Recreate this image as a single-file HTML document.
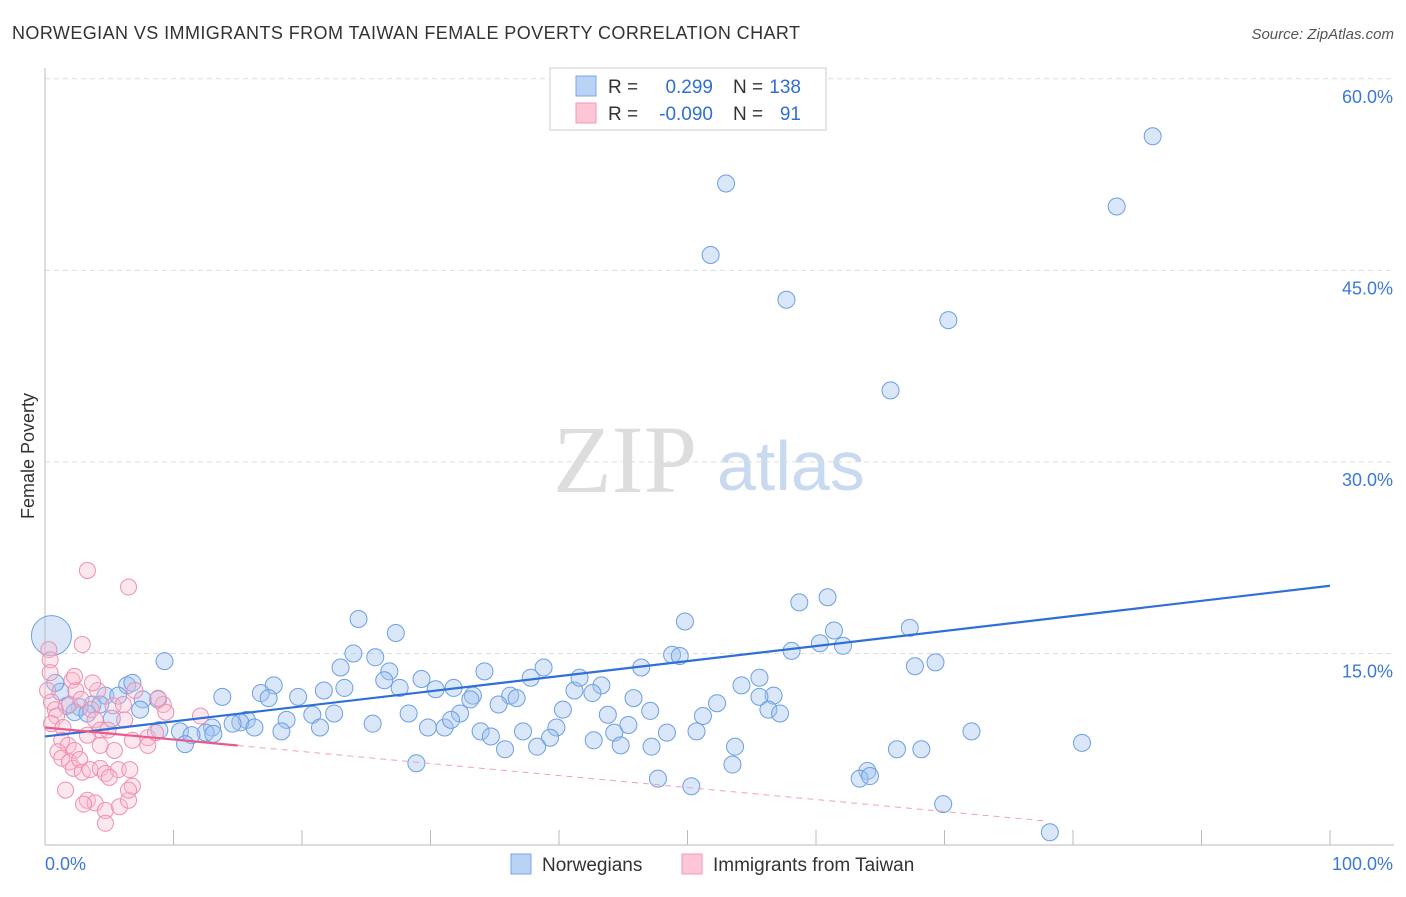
<!DOCTYPE html>
<html><head><meta charset="utf-8"><style>
body{margin:0;background:#fff;font-family:"Liberation Sans",sans-serif;}
svg text{font-family:"Liberation Sans",sans-serif;}
</style></head><body>
<svg id="c" width="1406" height="892" xmlns="http://www.w3.org/2000/svg">
<text x="12" y="39" font-size="18" fill="#333" textLength="788">NORWEGIAN VS IMMIGRANTS FROM TAIWAN FEMALE POVERTY CORRELATION CHART</text>
<text x="1394" y="39" font-size="15" fill="#555" font-style="italic" text-anchor="end">Source: ZipAtlas.com</text>
<text x="34" y="456" font-size="18" fill="#333" transform="rotate(-90 34 456)" text-anchor="middle">Female Poverty</text>
<g>
<text x="553" y="492" font-size="96" fill="#ddd" font-family="Liberation Serif" style="font-family:'Liberation Serif',serif">ZIP</text>
<text x="717" y="490" font-size="70" fill="#c9d9f0">atlas</text>
</g>
<g id="grid"></g><g id="axes"></g><g id="pts"></g><g id="lines"></g>
<g>
<rect x="550" y="68" width="276" height="62" fill="#fff" stroke="#ccc"/>
<rect x="576" y="76" width="20" height="20" fill="#b9d3f5" stroke="#7aa6e6"/>
<rect x="576" y="103" width="20" height="20" fill="#fcc6d6" stroke="#f09ab5"/>
<text x="608" y="93" font-size="19" fill="#333">R =</text>
<text x="713" y="93" font-size="19" fill="#2f6fd6" text-anchor="end">0.299</text>
<text x="733" y="93" font-size="19" fill="#333">N =</text>
<text x="801" y="93" font-size="19" fill="#2f6fd6" text-anchor="end">138</text>
<text x="608" y="120" font-size="19" fill="#333">R =</text>
<text x="713" y="120" font-size="19" fill="#2f6fd6" text-anchor="end">-0.090</text>
<text x="733" y="120" font-size="19" fill="#333">N =</text>
<text x="801" y="120" font-size="19" fill="#2f6fd6" text-anchor="end">91</text>
</g>
<g>
<rect x="511" y="854" width="20" height="20" fill="#b9d3f5" stroke="#7aa6e6"/>
<text x="542" y="871" font-size="19" fill="#333">Norwegians</text>
<rect x="682" y="854" width="20" height="20" fill="#fcc6d6" stroke="#f09ab5"/>
<text x="713" y="871" font-size="19" fill="#333">Immigrants from Taiwan</text>
</g>
</svg>
<script>
const yTicks=[15,30,45,60];
const yTickLabels=["15.0%","30.0%","45.0%","60.0%"];
const xTicks=[0,10,20,30,40,50,60,70,80,90,100];
const xTickLabels=["0.0%","100.0%"];
const blueX=[86.2,53.0,83.4,51.8,57.7,70.3,65.8,24.4,49.8,58.7,60.9,67.3,27.3,61.4,60.3,62.1,69.3,67.7,58.1,48.8,49.4,46.4,9.3,24.0,25.7,23.0,26.8,34.2,38.8,37.8,26.4,29.3,31.8,27.6,23.3,21.7,17.8,16.8,19.7,17.4,13.8,33.3,30.4,36.2,36.7,35.3,33.1,41.2,41.6,43.3,42.6,45.8,55.6,54.2,56.7,55.6,56.3,57.2,52.3,51.2,47.1,43.8,40.3,32.3,28.3,22.5,20.8,18.8,15.7,15.2,14.6,13.0,12.5,10.5,11.4,13.1,16.3,18.4,21.4,25.5,29.8,31.1,31.6,33.9,34.7,37.2,39.8,45.4,44.3,48.4,50.7,39.3,38.3,42.7,44.8,47.2,53.7,35.8,66.3,68.2,72.1,80.7,53.5,28.9,47.7,50.3,64.0,63.4,64.2,69.9,78.2,10.9,8.8,7.6,6.4,6.8,4.7,5.7,3.7,4.3,2.7,1.7,1.2,0.8,0.5,2.3,3.3,7.4,8.9,5.2];
const blueY=[55.5,51.8,50.0,46.2,42.7,41.1,35.6,17.7,17.5,19.0,19.4,17.0,16.6,16.8,15.8,15.6,14.3,14.0,15.2,14.9,14.8,13.9,14.4,15.0,14.7,13.9,13.6,13.6,13.9,13.1,12.9,13.0,12.3,12.3,12.3,12.1,12.5,11.9,11.6,11.5,11.6,11.7,12.2,11.7,11.5,11.0,11.4,12.1,13.1,12.5,11.9,11.5,13.1,12.5,11.7,11.6,10.6,10.3,11.1,10.1,10.5,10.2,10.6,10.3,10.3,10.3,10.2,9.8,9.8,9.6,9.5,9.2,8.8,8.9,8.6,8.7,9.2,8.9,9.2,9.5,9.2,9.2,9.8,8.9,8.5,8.9,9.2,9.4,8.8,8.8,8.9,8.4,7.7,8.2,7.8,7.7,7.7,7.5,7.5,7.5,8.9,8.0,6.3,6.4,5.2,4.6,5.8,5.2,5.4,3.2,1.0,7.9,11.4,11.4,12.5,12.7,11.7,11.7,11.0,11.0,10.8,10.9,12.0,12.7,16.4,10.4,10.3,10.6,9.0,9.9];
const pinkX=[3.3,6.5,2.9,0.3,0.4,0.4,0.2,0.5,0.8,0.9,0.5,1.4,2.1,2.4,1.9,2.8,3.6,3.9,4.3,3.3,1.3,1.8,1.0,1.3,2.3,1.9,2.2,2.7,2.9,3.5,4.3,4.7,5.7,6.6,5.0,1.6,3.3,3.9,3.0,4.7,5.8,6.5,6.8,6.5,4.7,4.9,6.2,6.8,4.3,5.4,8.0,8.0,8.6,9.2,9.4,12.1,8.8,5.3,7.0,6.1,4.1,3.7,2.3];
const pinkY=[21.5,20.2,15.7,15.3,14.5,13.5,12.1,11.2,10.6,10.1,9.5,9.2,12.9,12.1,11.0,11.4,10.6,9.8,9.0,8.6,8.2,7.8,7.3,6.8,7.4,6.5,6.0,6.7,5.7,5.9,6.0,5.6,5.9,5.9,5.3,4.3,3.5,3.3,3.2,2.7,3.0,3.5,4.6,4.3,1.7,9.0,9.8,8.2,7.8,7.4,8.4,7.8,8.8,11.0,10.4,10.1,11.5,10.9,12.1,11.0,12.1,12.7,13.2];
const blueFit=[8.5,20.3];
const pinkFit=[9.2,-0.2];
const NS="http://www.w3.org/2000/svg";
const X=v=>45+v*12.85, Y=v=>845-v*12.77;
function mk(tag,at,parent){const e=document.createElementNS(NS,tag);for(const k in at)e.setAttribute(k,at[k]);document.getElementById(parent).appendChild(e);return e;}
yTicks.forEach((t,i)=>{
 const g=mk('line',{x1:45,x2:1394,y1:Y(t),y2:Y(t),stroke:'#ddd','stroke-dasharray':'5,4'},'grid');
 
 
 const l=mk('text',{x:1393,y:Y(t)+24,'font-size':18,fill:'#3b78d8','text-anchor':'end'},'axes');
 l.textContent=yTickLabels[i];
 
 
});
const ya=mk('line',{x1:45,x2:45,y1:68,y2:845,stroke:'#bbb'},'axes');


const xa=mk('line',{x1:45,x2:1394,y1:845,y2:845,stroke:'#bbb'},'axes');


xTicks.forEach(t=>{
 const e=mk('line',{x1:X(t),x2:X(t),y1:830,y2:845,stroke:'#bbb'},'axes');
 
 
});
[[0,'start',45],[100,'end',1393]].forEach((a,i)=>{
 const l=mk('text',{x:a[2],y:870,'font-size':18,fill:'#3b78d8','text-anchor':a[1]},'axes');
 l.textContent=xTickLabels[i];
 
 
});
blueX.forEach((x,i)=>{
 const big=(x<1&&blueY[i]>16);
 const c=mk('circle',{cx:X(x),cy:Y(blueY[i]),r:big?20:8.5,fill:'rgba(160,195,240,0.4)',stroke:'#6d9fe3','stroke-width':1},'pts');
 
 
});
pinkX.forEach((x,i)=>{
 const c=mk('circle',{cx:X(x),cy:Y(pinkY[i]),r:8,fill:'rgba(250,185,205,0.35)',stroke:'#ef8fb0','stroke-width':1},'pts');
 
 
});
const bl=mk('line',{x1:X(0),y1:Y(blueFit[0]),x2:X(100),y2:Y(blueFit[1]),stroke:'#2e6fd8','stroke-width':2.2},'lines');


const pv=x=>pinkFit[0]+(pinkFit[1]-pinkFit[0])*x/100;
const ps=mk('line',{x1:X(0),y1:Y(pv(0)),x2:X(15),y2:Y(pv(15)),stroke:'#ea5a8a','stroke-width':2.2},'lines');


const pd=mk('line',{x1:X(15),y1:Y(pv(15)),x2:X(78),y2:Y(pv(78)),stroke:'#f2a0bb','stroke-width':1,'stroke-dasharray':'6,5'},'lines');


</script>
</body></html>
